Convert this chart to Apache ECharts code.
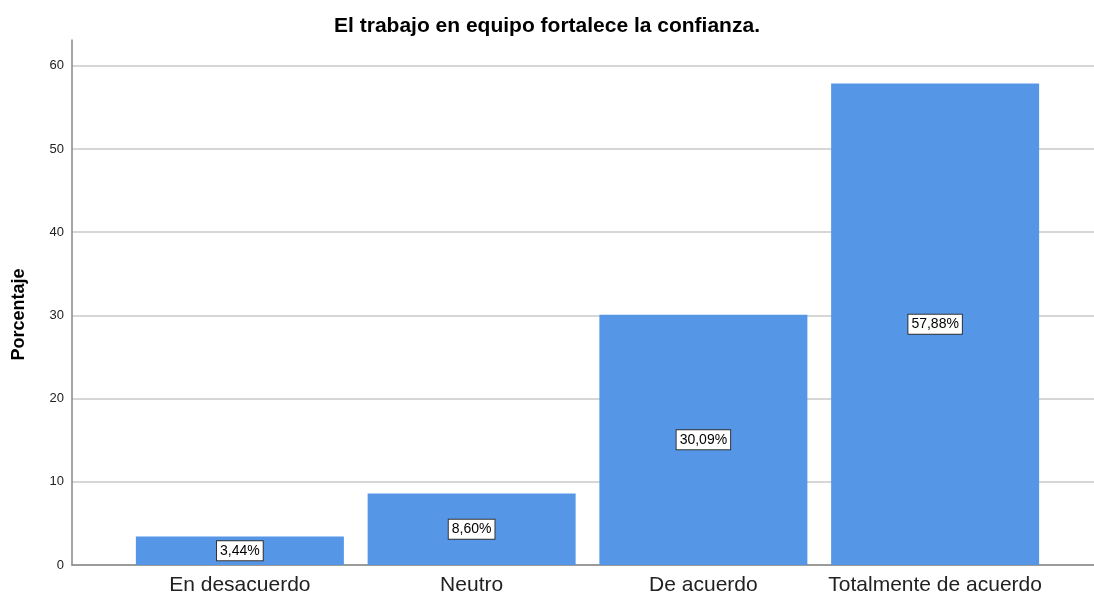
<!DOCTYPE html>
<html>
<head>
<meta charset="utf-8">
<script src="https://cdn.jsdelivr.net/npm/echarts@6/dist/echarts.min.js"></script>
<style>
  html, body { margin: 0; padding: 0; background: #fff; }
  #chart { width: 1094px; height: 598px; }
</style>
</head>
<body>
<div id="chart"></div>
<script>
// datos
const categorias = ['En desacuerdo', 'Neutro', 'De acuerdo', 'Totalmente de acuerdo'];
const porcentajes = [3.44, 8.60, 30.09, 57.88];
const yMax = 63.1;

const chart = echarts.init(document.getElementById('chart'));

const option = {
  animation: false,
  title: {
    text: 'El trabajo en equipo fortalece la confianza.',
    left: 'center',
    top: 11,
    textStyle: { fontFamily: 'Liberation Sans, Arial', fontSize: 21, fontWeight: 'bold', color: '#000' }
  },
  grid: [
    // eje y + lineas de fondo
    { left: 72, right: 0, top: 40, bottom: 33 },
    // barras
    { left: 124, right: 43, top: 40, bottom: 33 }
  ],
  xAxis: [
    {
      gridIndex: 0,
      type: 'category',
      data: [''],
      axisLine: { lineStyle: { color: '#888', width: 1.5 } },
      axisTick: { show: false },
      axisLabel: { show: false }
    },
    {
      gridIndex: 1,
      type: 'category',
      data: categorias,
      axisLine: { show: false },
      axisTick: { show: false },
      axisLabel: {
        interval: 0,
        margin: 10,
        fontFamily: 'Liberation Sans, Arial',
        fontSize: 21,
        color: '#222'
      }
    }
  ],
  yAxis: [
    {
      gridIndex: 0,
      type: 'value',
      min: 0,
      max: yMax,
      interval: 10,
      name: 'Porcentaje',
      nameLocation: 'middle',
      nameGap: 44,
      nameTextStyle: {
        fontFamily: 'Liberation Sans, Arial',
        fontSize: 18,
        fontWeight: 'bold',
        color: '#000',
        padding: [0, 24, 0, 0]
      },
      axisLine: { show: true, lineStyle: { color: '#888', width: 1.5 } },
      axisTick: { show: false },
      axisLabel: {
        margin: 8,
        fontFamily: 'Liberation Sans, Arial',
        fontSize: 13,
        color: '#222',
        showMaxLabel: false
      },
      splitLine: { showMaxLine: false, lineStyle: { color: '#c8c8c8', width: 1.5 } }
    },
    {
      gridIndex: 1,
      type: 'value',
      min: 0,
      max: yMax,
      show: false,
      splitLine: { show: false }
    }
  ],
  series: [
    {
      type: 'bar',
      xAxisIndex: 1,
      yAxisIndex: 1,
      data: porcentajes,
      barWidth: 208,
      itemStyle: { color: '#5596e6' },
      label: {
        show: true,
        position: 'inside',
        formatter: p => p.value.toFixed(2).replace('.', ',') + '%',
        fontFamily: 'Liberation Sans, Arial',
        fontSize: 14,
        color: '#000',
        backgroundColor: '#fff',
        borderColor: '#333',
        borderWidth: 1,
        padding: [3, 3, 2, 3]
      }
    }
  ]
};

chart.setOption(option);
</script>
</body>
</html>
